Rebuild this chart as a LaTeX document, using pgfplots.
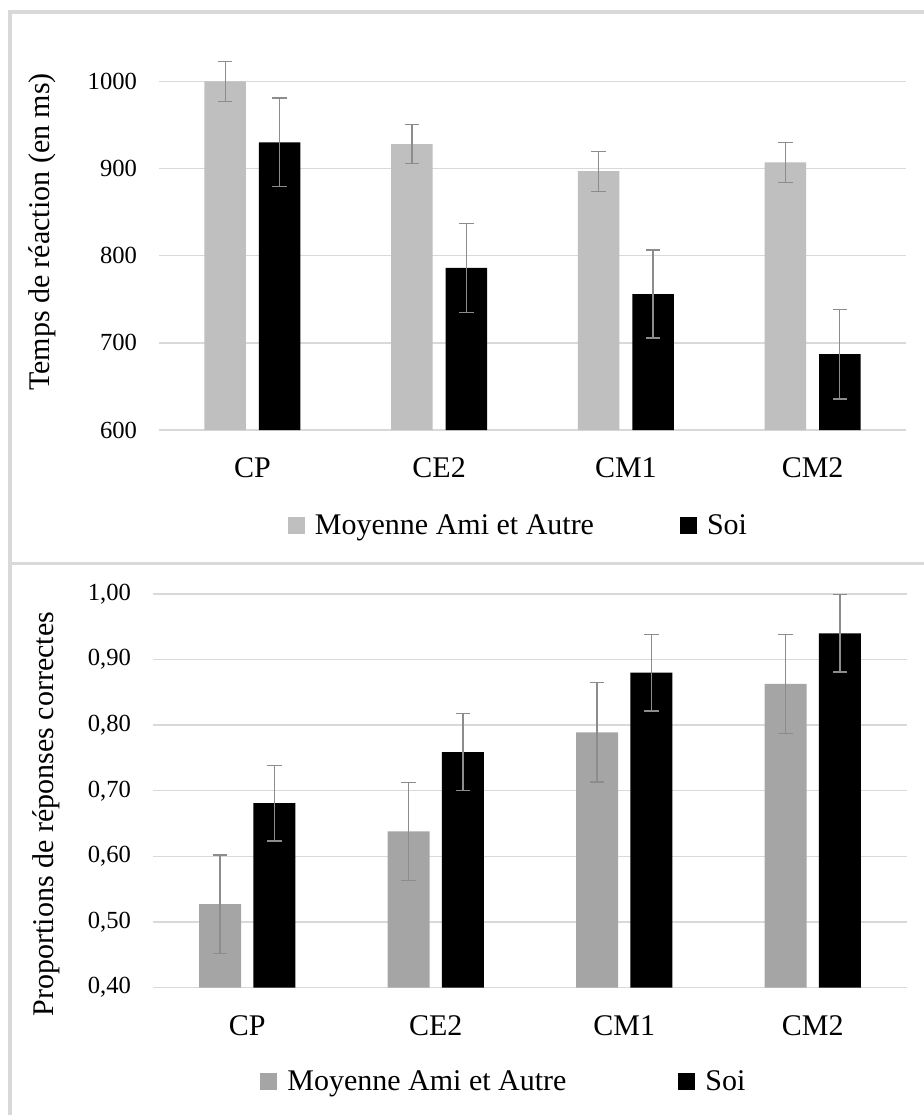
\documentclass[border=0pt]{standalone}
\usepackage{pgfplots}
\pgfplotsset{compat=1.18}
\usepackage{fontspec}
\setmainfont{Liberation Serif}
\definecolor{lgray}{HTML}{BFBFBF}
\definecolor{mgray}{HTML}{A5A5A5}
\definecolor{gridc}{HTML}{D9D9D9}
\definecolor{errc}{HTML}{8C8C8C}
\definecolor{framec}{HTML}{D9D9D9}

\pgfplotsset{
 mybar/.style={
  scale only axis, ybar, clip=false,
  xmin=-0.5, xmax=3.5, xtick={0,1,2,3}, xticklabels={CP,CE2,CM1,CM2},
  ymajorgrids, grid style={gridc, line width=0.7pt},
  axis line style={draw=none}, major tick length=0pt, tick style={draw=none},
  xticklabel style={font=\fontsize{15}{18}\selectfont, yshift=-10.5pt},
  yticklabel style={font=\fontsize{12.3}{14}\selectfont, xshift=-7.5pt},
  ylabel style={font=\fontsize{15}{18}\selectfont, anchor=center},
  /pgf/number format/assume math mode=true,
  /pgf/number format/1000 sep={},
  scaled y ticks=false,
  error bars/y dir=both, error bars/y explicit,
  error bars/error bar style={draw=errc, solid, line width=0.6pt},
  error bars/error mark options={rotate=90, draw=errc, mark size=3.6pt, line width=0.6pt},
  legend columns=2,
  legend image code/.code={\fill[##1] (0pt,-4.25pt) rectangle (8.5pt,4.25pt);},
  legend style={draw=none, fill=none, font=\fontsize{15}{18}\selectfont, anchor=center,
    /tikz/every odd column/.append style={column sep=3pt}},
 }
}

\begin{document}
\begin{tikzpicture}
\useasboundingbox (0,0) rectangle (462pt,-557.5pt);
\fill[white] (0,0) rectangle (462pt,-557.5pt);
\draw[framec, line width=1.6pt] (5pt,-560pt) -- (5pt,-6pt) -- (470pt,-6pt);
\draw[framec, line width=1.6pt] (5pt,-281.75pt) -- (470pt,-281.75pt);

\begin{axis}[mybar,
  at={(79.5pt,-215pt)}, anchor=south west,
  width=373.5pt, height=174.3pt,
  ymin=600, ymax=1000, ytick={600,700,800,900,1000},
  bar width=20.75pt,
  ylabel={Temps de réaction (en ms)},
  ylabel style={at={(axis description cs:-0.1566,0.568)}},
  legend style={at={(axis description cs:0.4826,-0.275)},
    /tikz/every even column/.append style={column sep=41pt}},
]
\addplot[fill=lgray, draw=none, bar shift=-13.6pt] coordinates {
 (0,1000) +- (0,23)
 (1,928) +- (0,22.5)
 (2,897) +- (0,23)
 (3,907) +- (0,23)
};
\addplot[fill=black, draw=none, bar shift=13.6pt] coordinates {
 (0,930) +- (0,51)
 (1,786) +- (0,51)
 (2,756) +- (0,50.5)
 (3,687) +- (0,51.5)
};
\legend{Moyenne Ami et Autre, Soi}
\end{axis}

\begin{axis}[mybar,
  at={(76.5pt,-493.75pt)}, anchor=south west,
  width=377pt, height=196.75pt,
  ymin=0.4, ymax=1.0, ytick={0.4,0.5,0.6,0.7,0.8,0.9,1.0},
  yticklabel style={/pgf/number format/.cd, fixed, fixed zerofill, precision=2, use comma},
  bar width=21pt,
  ylabel={Proportions de réponses correctes},
  ylabel style={at={(axis description cs:-0.142,0.441)}},
  legend style={at={(axis description cs:0.4668,-0.24)},
    /tikz/every even column/.append style={column sep=54pt}},
]
\addplot[fill=mgray, draw=none, bar shift=-13.6pt] coordinates {
 (0,0.527) +- (0,0.075)
 (1,0.638) +- (0,0.075)
 (2,0.789) +- (0,0.0755)
 (3,0.863) +- (0,0.0755)
};
\addplot[fill=black, draw=none, bar shift=13.6pt] coordinates {
 (0,0.681) +- (0,0.0575)
 (1,0.759) +- (0,0.059)
 (2,0.880) +- (0,0.0585)
 (3,0.940) +- (0,0.059)
};
\legend{Moyenne Ami et Autre, Soi}
\end{axis}
\end{tikzpicture}
\end{document}
